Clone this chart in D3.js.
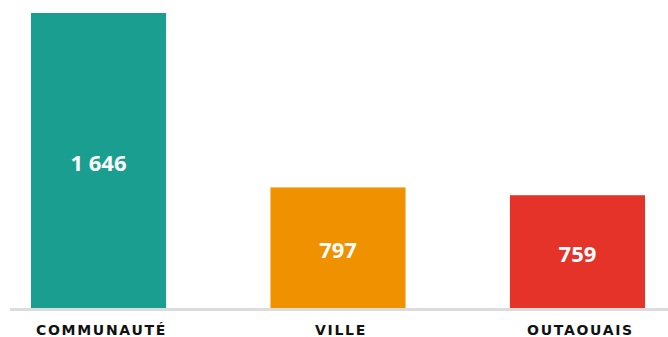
<!DOCTYPE html>
<html>
<head>
<meta charset="utf-8">
<script src="https://cdn.jsdelivr.net/npm/d3@7"></script>
<style>
  html, body { margin: 0; padding: 0; background: #fff; }
  svg { display: block; }
</style>
</head>
<body>
<svg id="chart" width="668" height="337"></svg>
<script>
// Data
const categories = ["COMMUNAUTÉ", "VILLE", "OUTAOUAIS"];
const values = [1646, 797, 759];
const valueLabels = ["1 646", "797", "759"];
const colors = ["#1a9e8f", "#f09100", "#e5332a"];
const yFloor = 210; // value axis does not start at zero

const svg = d3.select("#chart");
const W = 668, baseY = 308, topY = 13;

const x = d3.scaleBand()
  .domain(categories)
  .range([31, 645])
  .paddingInner(0.436)
  .paddingOuter(0);

const y = d3.scaleLinear()
  .domain([yFloor, d3.max(values)])
  .range([baseY, topY]);

const data = categories.map((c, i) => ({ cat: c, v: values[i], label: valueLabels[i], color: colors[i] }));

// Bars
svg.append("g").selectAll("rect")
  .data(data)
  .join("rect")
  .attr("x", d => x(d.cat))
  .attr("y", d => y(d.v))
  .attr("width", x.bandwidth())
  .attr("height", d => baseY - y(d.v))
  .attr("fill", d => d.color);

// Baseline
svg.append("line")
  .attr("x1", 10).attr("x2", W)
  .attr("y1", baseY + 1.5).attr("y2", baseY + 1.5)
  .attr("stroke", "#dcdcdc")
  .attr("stroke-width", 3);

// Value labels inside bars
svg.append("g").selectAll("text")
  .data(data)
  .join("text")
  .attr("x", d => x(d.cat) + x.bandwidth() / 2)
  .attr("y", d => (y(d.v) + baseY) / 2 + 10)
  .attr("text-anchor", "middle")
  .attr("font-family", "'Open Sans', sans-serif")
  .attr("font-weight", 700)
  .attr("font-size", 22)
  .attr("fill", "#fff")
  .text(d => d.label);

// Category labels
svg.append("g").selectAll("text")
  .data(data)
  .join("text")
  .attr("x", d => x(d.cat) + x.bandwidth() / 2 + 3)
  .attr("y", 335)
  .attr("text-anchor", "middle")
  .attr("font-family", "'DejaVu Sans', sans-serif")
  .attr("font-weight", 700)
  .attr("font-size", 14)
  .attr("letter-spacing", 1.7)
  .attr("fill", "#111")
  .text(d => d.cat);
</script>
</body>
</html>
